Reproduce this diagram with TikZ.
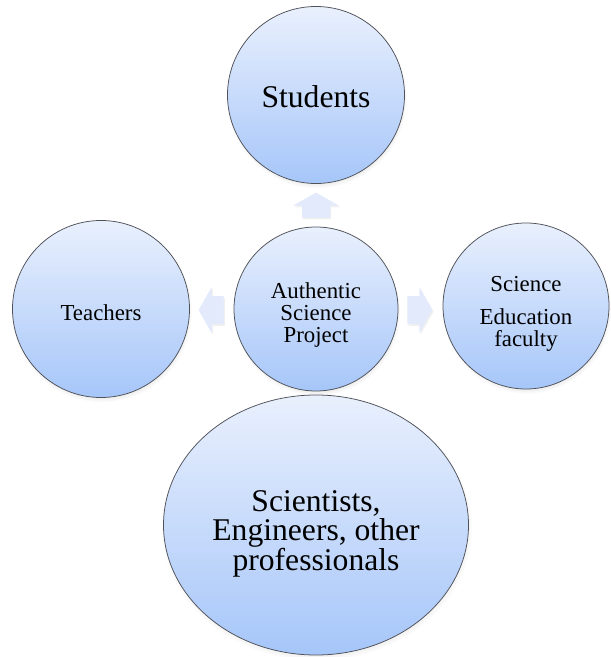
\documentclass[tikz,border=0pt]{standalone}
\usepackage{fontspec}
\setmainfont{Liberation Serif}
\usepackage{tikz}
\usetikzlibrary{calc,shadows,shapes.geometric}
\definecolor{bubbletop}{RGB}{233,240,253}
\definecolor{bubblebot}{RGB}{166,198,249}
\definecolor{arrowfill}{RGB}{226,234,251}
\definecolor{rim}{RGB}{80,82,90}
% taller first line, pushes the text a bit below the middle
\newcommand\padtop[1]{\rule{0pt}{#1}}

\begin{document}
\begin{tikzpicture}[x=0.03cm,y=-0.03cm]
\tikzstyle{bubble}=[circle,draw=rim,line width=0.65pt,top color=bubbletop,bottom color=bubblebot,
   align=center,inner sep=0pt,
   circular drop shadow={shadow scale=1.02,shadow xshift=0.6pt,shadow yshift=-2.5pt,opacity=0.35}]
\tikzstyle{smalltext}=[font=\fontsize{19.5}{19}\selectfont]
\tikzstyle{largetext}=[font=\fontsize{27}{25}\selectfont]
\tikzset{blockarrow/.pic={
   \fill [arrowfill,drop shadow={shadow xshift=1pt,shadow yshift=-1.5pt,opacity=0.12}]
      (0,-14) -- (12,-14) -- (12,-23) -- (25,0) -- (12,23) -- (12,14) -- (0,14) -- cycle;}}

\useasboundingbox (0,0) rectangle (610,657);

\node (project) at (316,309) [bubble,smalltext,minimum size=4.92cm] {\padtop{24pt}Authentic\\Science\\Project};

\node (students) at (316,95) [bubble,largetext,minimum size=5.31cm] {\padtop{21pt}Students};
\node (teachers) at (101,309) [bubble,smalltext,minimum size=5.31cm] {\padtop{20pt}Teachers};
\node (faculty) at (526,306) [bubble,smalltext,minimum size=4.98cm] {\padtop{26pt}Science\\[9pt]Education\\faculty};

\node (pros) at (316,525) [bubble,ellipse,largetext,minimum width=9.15cm,minimum height=7.8cm]
   {\padtop{33pt}Scientists,\\Engineers, other\\professionals};

% arrows out of the project
\pic [rotate=90] at ($(project.north)+(0,-9)$) {blockarrow};
\pic [rotate=180] at ($(project.west)+(-10,1)$) {blockarrow};
\pic at ($(project.east)+(9,1)$) {blockarrow};

\end{tikzpicture}
\end{document}
